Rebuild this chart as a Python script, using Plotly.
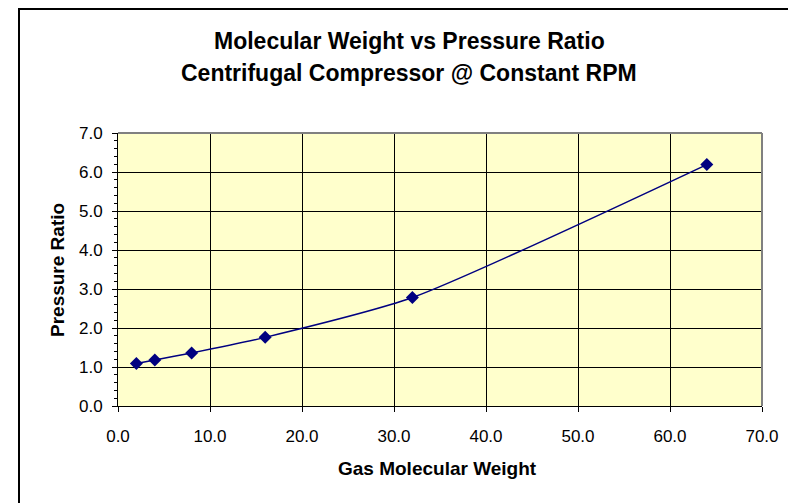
import plotly.graph_objects as go

# gas molecular weight vs pressure ratio
mol_weight = [2, 4, 8, 16, 32, 64]
pressure_ratio = [1.09, 1.18, 1.36, 1.76, 2.78, 6.19]

title_lines = ["Molecular Weight vs Pressure Ratio", "Centrifugal Compressor @ Constant RPM"]
x_title = "Gas Molecular Weight"
y_title = "Pressure Ratio"

# page has an 8px body margin, so figure px = window px - 8
W, H = 796, 503
L, R, T, B = 110, 42, 125, 105
pw, ph = W - L - R, H - T - B


def px(x):
    return (x - L) / pw


def py(y):
    return (H - B - y) / ph


font = dict(family="Arial, Liberation Sans, sans-serif", color="black")

fig = go.Figure(go.Scatter(
    x=mol_weight, y=pressure_ratio, mode="lines+markers",
    line=dict(color="#000080", width=1.5, shape="spline", smoothing=0.6),
    marker=dict(symbol="diamond", size=10, color="#000080"),
    showlegend=False,
))

fig.update_layout(
    width=W, height=H,
    margin=dict(l=L, r=R, t=T, b=B),
    paper_bgcolor="white", plot_bgcolor="#FFFFCC",
    font=dict(size=17, **font),
)
fig.update_xaxes(
    range=[0, 70], dtick=10, tickformat=".1f",
    showgrid=True, gridcolor="black", gridwidth=1,
    showline=True, linecolor="black", linewidth=1,
    ticks="outside", ticklen=5, tickcolor="black", ticklabelstandoff=10,
    zeroline=False,
)
fig.update_yaxes(
    range=[0, 7], dtick=1, tickformat=".1f",
    showgrid=True, gridcolor="black", gridwidth=1,
    showline=True, linecolor="black", linewidth=1,
    ticks="outside", ticklen=5, tickcolor="black", ticklabelstandoff=6,
    minor=dict(dtick=0.2, ticks="outside", ticklen=3, tickcolor="black", showgrid=False),
    zeroline=False,
)

# titles as annotations for exact placement
for text, y in zip(title_lines, [33, 65]):
    fig.add_annotation(text=f"<b>{text}</b>", xref="paper", yref="paper",
                       x=px(401), y=py(y), xanchor="center", yanchor="middle",
                       showarrow=False, font=dict(size=23, **font))
fig.add_annotation(text=f"<b>{x_title}</b>", xref="paper", yref="paper",
                   x=px(429), y=py(460), xanchor="center", yanchor="middle",
                   showarrow=False, font=dict(size=19, **font))
fig.add_annotation(text=f"<b>{y_title}</b>", xref="paper", yref="paper",
                   x=px(49), y=py(262), xanchor="center", yanchor="middle",
                   textangle=-90, showarrow=False, font=dict(size=19, **font))

# grey frame on top/right of plot area
fig.add_shape(type="line", xref="paper", yref="paper", x0=0, x1=1, y0=1, y1=1,
              line=dict(color="#808080", width=2))
fig.add_shape(type="line", xref="paper", yref="paper", x0=1, x1=1, y0=0, y1=1,
              line=dict(color="#808080", width=2))

# outer chart border
fig.add_shape(type="rect", xref="paper", yref="paper",
              x0=px(11), x1=px(W + 10), y0=py(H + 10), y1=py(1),
              line=dict(color="black", width=2), layer="below")

fig.write_html("out.html")
